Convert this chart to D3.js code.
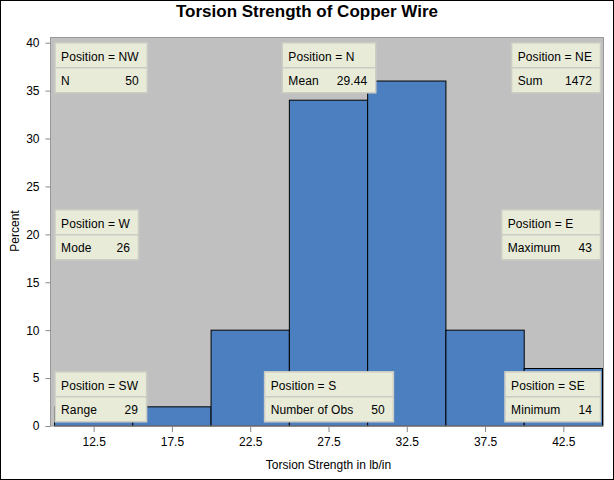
<!DOCTYPE html>
<html>
<head>
<meta charset="utf-8">
<script src="https://cdn.jsdelivr.net/npm/d3@7"></script>
<style>
  html, body { margin: 0; padding: 0; background: #fff; }
  svg { display: block; font-family: "Liberation Sans", Arial, sans-serif; }
</style>
</head>
<body>
<div id="chart"></div>
<script>
// ---- Data ----
const binMidpoints = [12.5, 17.5, 22.5, 27.5, 32.5, 37.5, 42.5];
const binWidth = 5;
const percents = [2, 2, 10, 34, 36, 10, 6];
const xTickValues = [12.5, 17.5, 22.5, 27.5, 32.5, 37.5, 42.5];
const yTickValues = [0, 5, 10, 15, 20, 25, 30, 35, 40];
const insetPositions = ["NW", "N", "NE", "W", "E", "SW", "S", "SE"];
const insetLabels = ["N", "Mean", "Sum", "Mode", "Maximum", "Range", "Number of Obs", "Minimum"];
const insetValues = ["50", "29.44", "1472", "26", "43", "29", "50", "14"];
const titleText = "Torsion Strength of Copper Wire";
const xLabel = "Torsion Strength in lb/in";
const yLabel = "Percent";

// ---- Layout ----
const W = 614, H = 480;
const frame = { left: 50.5, right: 603.5, top: 37.5, bottom: 426 };
const x = d3.scaleLinear().domain([10, 45]).range([54.5, 602.5]);
const y = d3.scaleLinear().domain([0, 40]).range([426, 42.7]);

const svg = d3.select("#chart").append("svg")
  .attr("width", W).attr("height", H);

svg.append("rect").attr("x", 0.5).attr("y", 0.5)
  .attr("width", W - 1).attr("height", H - 1)
  .attr("fill", "#fff").attr("stroke", "#000");

// plot background
svg.append("rect")
  .attr("x", frame.left).attr("y", frame.top)
  .attr("width", frame.right - frame.left).attr("height", frame.bottom - frame.top)
  .attr("fill", "#C0C0C0");

// bars
svg.append("g").selectAll("rect").data(binMidpoints).join("rect")
  .attr("x", d => x(d - binWidth / 2))
  .attr("width", d => x(d + binWidth / 2) - x(d - binWidth / 2))
  .attr("y", (d, i) => y(percents[i]))
  .attr("height", (d, i) => y(0) - y(percents[i]))
  .attr("fill", "#4C7FC0")
  .attr("stroke", "#000").attr("stroke-width", 1);

// frame
svg.append("rect")
  .attr("x", frame.left).attr("y", frame.top)
  .attr("width", frame.right - frame.left).attr("height", frame.bottom - frame.top)
  .attr("fill", "none").attr("stroke", "#999").attr("stroke-width", 1);

// axes
const yAxis = svg.append("g").attr("transform", `translate(${frame.left},0)`)
  .call(d3.axisLeft(y).tickValues(yTickValues).tickSize(5).tickPadding(6).tickFormat(d3.format("d")));
const xAxis = svg.append("g").attr("transform", `translate(0,${frame.bottom})`)
  .call(d3.axisBottom(x).tickValues(xTickValues).tickSize(6).tickPadding(5).tickFormat(d3.format(".1f")));
[yAxis, xAxis].forEach(g => {
  g.select(".domain").remove();
  g.selectAll(".tick line").attr("stroke", "#888");
  g.selectAll(".tick text").attr("fill", "#000").style("font-size", "12px")
    .style("font-family", "'Liberation Sans', Arial, sans-serif");
});

// title & labels
svg.append("text").attr("x", W / 2).attr("y", 17).attr("text-anchor", "middle")
  .style("font-size", "17px").style("font-weight", "bold").text(titleText);
svg.append("text").attr("x", 328.5).attr("y", 469).attr("text-anchor", "middle")
  .style("font-size", "12px").text(xLabel);
svg.append("text").attr("transform", "translate(19,231) rotate(-90)")
  .attr("text-anchor", "middle").style("font-size", "12px").text(yLabel);

// insets
const boxH = 50, rowH = 25, padL = 6.6, padR = 8, gap = 18;
const bounds = { left: 54.5, right: 600, top: 42.3, bottom: 421.3, cx: 328.5, cy: 234.3 };
const insetG = svg.append("g");
insetPositions.forEach((pos, i) => {
  const g = insetG.append("g");
  const t1 = g.append("text").text("Position = " + pos);
  const t2 = g.append("text").text(insetLabels[i]);
  const t3 = g.append("text").text(insetValues[i]).attr("text-anchor", "end");
  g.selectAll("text").style("font-size", "12px").style("letter-spacing", "0.1px").attr("fill", "#000");
  const w1 = t1.node().getComputedTextLength();
  const w2 = t2.node().getComputedTextLength();
  const w3 = t3.node().getComputedTextLength();
  const bw = Math.max(w1, w2 + gap + w3) + padL + padR;
  let bx, by;
  if (pos.includes("W")) bx = bounds.left;
  else if (pos.includes("E")) bx = bounds.right - bw;
  else bx = bounds.cx - bw / 2;
  if (pos.startsWith("N")) by = bounds.top;
  else if (pos.startsWith("S")) by = bounds.bottom - boxH;
  else by = bounds.cy - boxH / 2;
  g.insert("rect", "text").attr("x", bx + 0.5).attr("y", by + 0.5)
    .attr("width", bw).attr("height", boxH)
    .attr("fill", "#E7EBD8").attr("stroke", "#CCCCC4").attr("stroke-width", 1.5);
  g.insert("line", "text").attr("x1", bx + 0.5).attr("x2", bx + bw + 0.5)
    .attr("y1", by + rowH + 0.5).attr("y2", by + rowH + 0.5)
    .attr("stroke", "#CCCCC4").attr("stroke-width", 1.5);
  t1.attr("x", bx + padL).attr("y", by + 18.5);
  t2.attr("x", bx + padL).attr("y", by + rowH + 18);
  t3.attr("x", bx + bw - padR).attr("y", by + rowH + 18);
});
</script>
</body>
</html>
